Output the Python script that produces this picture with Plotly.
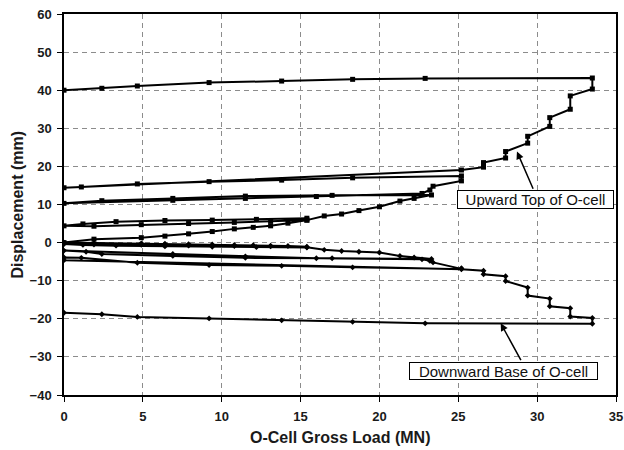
import plotly.graph_objects as go

# ---------------- data ----------------
# Upward movement (top of O-cell): load (MN) and displacement (mm)
up_load = [0, 1.9, 4.9, 6.4, 7.9, 9.4, 10.8, 12.0, 13.1, 14.2, 15.4, 15.4,
           12.2, 9.4, 6.4, 3.3, 1.2, 0,
           1.9, 4.9, 7.9, 10.8, 13.1, 15.4,
           16.5, 17.6, 18.7, 20.0, 21.3, 22.2, 23.3,
           17.0, 11.5, 6.9, 2.4, 0,
           6.9, 11.5, 16.0, 22.7, 23.2, 23.4, 25.2, 25.2,
           18.3, 13.8, 9.2, 4.65, 1.1, 0,
           25.2, 26.6, 26.6, 28.0, 28.0, 29.4, 29.4, 30.8, 30.8, 32.1, 32.1, 33.5, 33.5,
           22.9, 18.3, 13.8, 9.2, 4.65, 2.4, 0]
up_disp = [0, 0.9, 1.3, 1.7, 2.3, 2.9, 3.6, 4.0, 4.4, 5.1, 5.9, 6.4,
           6.1, 5.9, 5.8, 5.5, 4.9, 4.4,
           4.3, 4.7, 5.0, 5.3, 5.6, 5.9,
           7.0, 7.5, 8.4, 9.4, 10.9, 11.6, 12.5,
           12.4, 12.2, 11.6, 11.0, 10.3,
           11.1, 11.6, 12.1, 12.9, 13.8, 14.8, 16.2, 17.5,
           17.0, 16.4, 16.0, 15.4, 14.6, 14.4,
           19.05, 19.8, 21.0, 22.2, 23.9, 26.1, 27.9, 30.5, 32.8, 35.0, 38.5, 40.3, 43.2,
           43.1, 42.85, 42.4, 42.0, 41.1, 40.5, 40.0]

# Downward movement (base of O-cell)
down_load = [0, 1.9, 4.9, 6.4, 7.9, 9.4, 10.8, 12.0, 13.1, 14.2, 15.4, 15.4,
             12.2, 9.4, 6.4, 3.3, 1.2, 0,
             1.9, 4.9, 7.9, 10.8, 13.1, 15.4,
             16.5, 17.6, 18.7, 20.0, 21.3, 22.2, 23.3,
             17.0, 11.5, 6.9, 2.4, 1.4, 0,
             6.9, 11.5, 16.0, 22.7, 23.2, 23.4, 25.2, 25.2,
             18.3, 13.8, 9.2, 4.65, 1.1, 0, 0,
             25.2, 26.6, 26.6, 28.0, 28.0, 29.4, 29.4, 30.8, 30.8, 32.1, 32.1, 33.5, 33.5,
             22.9, 18.3, 13.8, 9.2, 4.65, 2.4, 0]
down_disp = [0, -0.1, -0.2, -0.3, -0.4, -0.5, -0.6, -0.7, -0.8, -0.9, -1.1, -1.3,
             -1.2, -1.1, -1.0, -0.8, -0.6, -0.4,
             -0.5, -0.6, -0.8, -0.9, -1.0, -1.2,
             -1.9, -2.2, -2.4, -2.6, -3.5, -3.9, -4.3,
             -4.1, -4.0, -3.5, -3.0, -2.4, -2.1,
             -3.0, -3.6, -4.1, -4.4, -4.8, -5.2, -6.7, -6.9,
             -6.5, -6.1, -5.9, -5.3, -4.0, -3.9, -4.6,
             -7.0, -7.4, -8.3, -8.8, -10.1, -11.8, -13.9, -14.7, -16.7, -17.2, -19.4, -19.8, -21.3,
             -21.2, -20.8, -20.4, -19.9, -19.5, -18.8, -18.4]

x_ticks = [0, 5, 10, 15, 20, 25, 30, 35]
y_ticks = [-40, -30, -20, -10, 0, 10, 20, 30, 40, 50, 60]

# ---------------- figure ----------------
FONT = "Liberation Sans, Arial, sans-serif"

fig = go.Figure()
fig.add_trace(go.Scatter(
    x=up_load, y=up_disp, mode="lines+markers", name="Upward Top of O-cell",
    line=dict(color="black", width=2),
    marker=dict(symbol="square", size=5, color="black"),
))
fig.add_trace(go.Scatter(
    x=down_load, y=down_disp, mode="lines+markers", name="Downward Base of O-cell",
    line=dict(color="black", width=2),
    marker=dict(symbol="diamond", size=4.5, color="black"),
))

axis_common = dict(
    showline=True, linecolor="black", linewidth=1.5, mirror=True,
    showgrid=True, gridcolor="#8c8c8c", gridwidth=1, griddash="5px,4px",
    zeroline=False, ticks="outside", ticklen=5, tickcolor="black", tickwidth=1,
    tickfont=dict(family=FONT, size=13, color="#1a1a1a", weight="bold"),
    automargin=False,
)

fig.update_xaxes(range=[0, 35], tickvals=x_ticks, ticklabelstandoff=4, **axis_common)
fig.update_yaxes(range=[-40, 60], tickvals=y_ticks, ticklabelstandoff=3, **axis_common)

annotations = [
    # axis titles
    dict(text="O-Cell Gross Load (MN)", xref="paper", yref="paper", x=0.5, y=-0.111,
         xanchor="center", yanchor="middle", showarrow=False,
         font=dict(family=FONT, size=16, color="#1a1a1a", weight="bold")),
    dict(text="Displacement (mm)", xref="paper", yref="paper", x=-0.085, y=0.5,
         xanchor="center", yanchor="middle", textangle=-90, showarrow=False,
         font=dict(family=FONT, size=16, color="#1a1a1a", weight="bold")),
    # label boxes
    dict(text="Upward Top of O-cell", xref="x", yref="y", x=29.92, y=11.44,
         showarrow=False, width=153, height=15, borderpad=1,
         bordercolor="black", borderwidth=1, bgcolor="white",
         font=dict(family=FONT, size=15, color="#111111")),
    dict(text="Downward Base of O-cell", xref="x", yref="y", x=27.89, y=-33.67,
         showarrow=False, width=185, height=14, borderpad=1,
         bordercolor="black", borderwidth=1, bgcolor="white",
         font=dict(family=FONT, size=15, color="#111111")),
    # arrows
    dict(text="", xref="x", yref="y", x=28.72, y=23.9, ax=16.8, ay=38.7,
         showarrow=True, arrowhead=2, arrowsize=1, arrowwidth=1.5, arrowcolor="black"),
    dict(text="", xref="x", yref="y", x=27.69, y=-21.18, ax=21, ay=38.4,
         showarrow=True, arrowhead=2, arrowsize=1, arrowwidth=1.5, arrowcolor="black"),
]

fig.update_layout(
    width=624, height=450,
    margin=dict(l=64, r=8, t=14, b=55),
    paper_bgcolor="white", plot_bgcolor="white",
    showlegend=False,
    annotations=annotations,
)

fig.write_html("out.html",
               config={"displayModeBar": False},
               post_script="document.body.style.margin='0';document.body.style.overflow='hidden';")
